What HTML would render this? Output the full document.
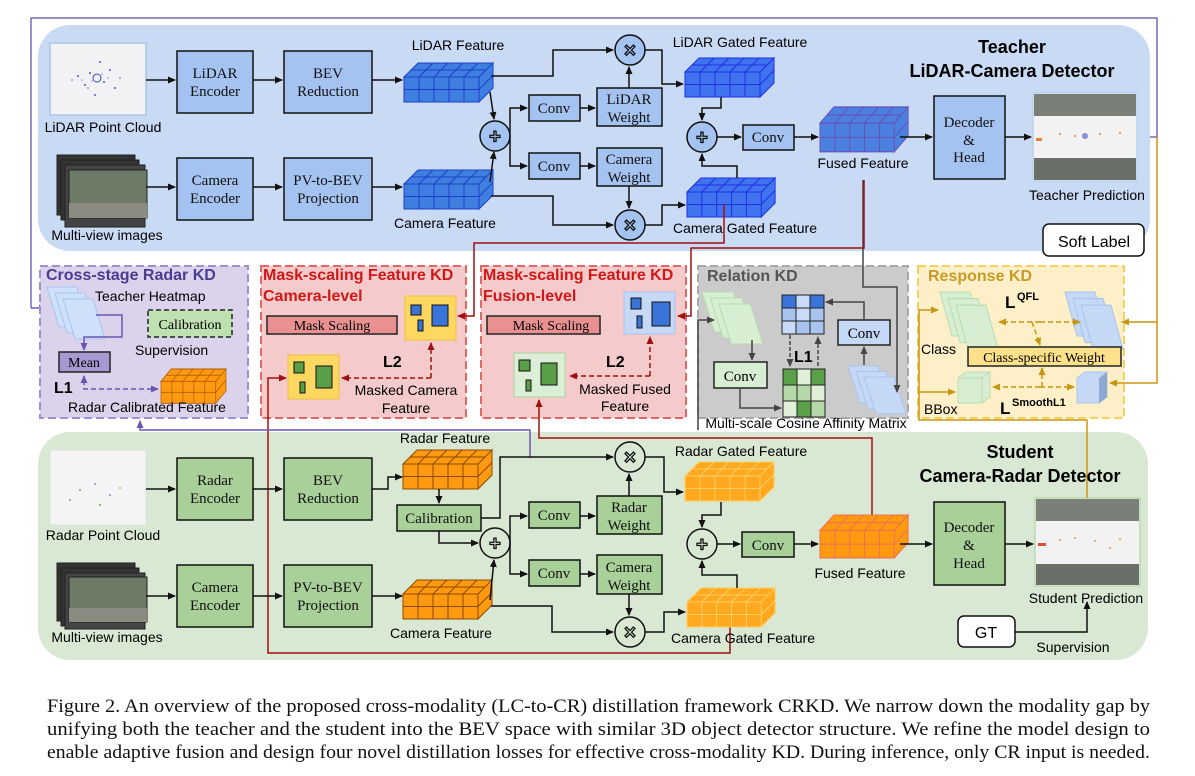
<!DOCTYPE html>
<html><head><meta charset="utf-8"><style>
html,body{margin:0;padding:0;background:#fff;}
svg{display:block;}
.s{font-family:"Liberation Sans",sans-serif;}
.r{font-family:"Liberation Serif",serif;}
</style></head><body>
<svg width="1195" height="776" viewBox="0 0 1195 776" xmlns="http://www.w3.org/2000/svg">
<defs>
<marker id="a" markerWidth="8" markerHeight="8" refX="7" refY="4" orient="auto" markerUnits="userSpaceOnUse"><path d="M0,0.5 L8,4 L0,7.5z" fill="#111"/></marker>
<marker id="ar" markerWidth="8" markerHeight="8" refX="7" refY="4" orient="auto" markerUnits="userSpaceOnUse"><path d="M0,0.5 L8,4 L0,7.5z" fill="#a01010"/></marker>
<marker id="ap" markerWidth="8" markerHeight="8" refX="7" refY="4" orient="auto" markerUnits="userSpaceOnUse"><path d="M0,0.5 L8,4 L0,7.5z" fill="#6a55b0"/></marker>
<marker id="ag" markerWidth="8" markerHeight="8" refX="7" refY="4" orient="auto" markerUnits="userSpaceOnUse"><path d="M0,0.5 L8,4 L0,7.5z" fill="#c8960f"/></marker>
<marker id="ak" markerWidth="8" markerHeight="8" refX="7" refY="4" orient="auto" markerUnits="userSpaceOnUse"><path d="M0,0.5 L8,4 L0,7.5z" fill="#444"/></marker>
<g id="cubeg">
<path d="M0,14 L14,0 L89,0 L75,14z M75,14 L89,0 L89,25 L75,39z M0,14 H75 V39 H0z"/>
<path d="M15,14V39M30,14V39M45,14V39M60,14V39M0,26.5H75M15,14L29,0M30,14L44,0M45,14L59,0M60,14L74,0M7,7H82M75,26.5L89,12.5" fill="none"/>
</g>
<g id="sl"><path d="M0,0h30l12,40h-30z"/><path d="M8,6h30l12,40h-30z"/><path d="M16,12h30l12,40h-30z"/></g>
</defs>

<path d="M31,308 V18 H1157 V137 H1140" fill="none" stroke="#7a68b8" stroke-width="1.5"/>
<path d="M31,308 H46" fill="none" stroke="#6a55b0" stroke-width="1.5" marker-end="url(#ap)"/>

<rect x="38" y="25" width="1112" height="226" rx="32" fill="#c9daf5"/>
<rect x="38" y="432" width="1110" height="228" rx="32" fill="#d8e8d3"/>

<rect x="50" y="43" width="96" height="72" fill="#f2f2f4" stroke="#a8c8e8" stroke-width="1.5"/>
<g fill="#5a5ab8"><circle cx="97" cy="78" r="4" fill="none" stroke="#3a4ab8"/><circle cx="90" cy="73" r="1"/><circle cx="104" cy="82" r="1"/><circle cx="85" cy="85" r="1"/><circle cx="110" cy="70" r="1"/><circle cx="78" cy="76" r="1"/><circle cx="115" cy="88" r="1"/><circle cx="95" cy="95" r="1"/><circle cx="100" cy="62" r="1"/><circle cx="120" cy="78" r="0.8"/><circle cx="72" cy="80" r="0.8"/><circle cx="88" cy="88" r="0.8"/><circle cx="82" cy="80" r="0.6"/><circle cx="108" cy="78" r="0.6"/><circle cx="92" cy="81" r="0.6"/><circle cx="102" cy="74" r="0.6"/></g>
<text x="103" y="132" class="s" font-size="14" text-anchor="middle">LiDAR Point Cloud</text>

<g stroke="#111" fill="#a5c3f0" stroke-width="1.5">
<rect x="177" y="51" width="76" height="62"/><rect x="284" y="51" width="88" height="62"/>
<rect x="177" y="158" width="76" height="62"/><rect x="284" y="158" width="88" height="62"/>
<rect x="529" y="95" width="51" height="26"/><rect x="529" y="153" width="51" height="26"/>
<rect x="597" y="88" width="65" height="38"/><rect x="597" y="148" width="65" height="38"/>
<rect x="743" y="125" width="51" height="25"/>
<rect x="934" y="96" width="71" height="83"/>
</g>
<g class="r" font-size="15" text-anchor="middle" fill="#111">
<text x="215" y="78">LiDAR</text><text x="215" y="96">Encoder</text>
<text x="328" y="78">BEV</text><text x="328" y="96">Reduction</text>
<text x="215" y="185">Camera</text><text x="215" y="203">Encoder</text>
<text x="328" y="185">PV-to-BEV</text><text x="328" y="203">Projection</text>
<text x="554" y="113">Conv</text><text x="554" y="171">Conv</text>
<text x="629" y="104">LiDAR</text><text x="629" y="122">Weight</text>
<text x="629" y="164">Camera</text><text x="629" y="182">Weight</text>
<text x="768" y="142">Conv</text>
<text x="969" y="127">Decoder</text><text x="969" y="145">&amp;</text><text x="969" y="162">Head</text>
</g>

<g stroke="#222"><rect x="57" y="155" width="78" height="60" fill="#333"/><rect x="61" y="160" width="78" height="60" fill="#333"/><rect x="65" y="165" width="80" height="62" fill="#444"/><rect x="69" y="170" width="78" height="48" fill="#6c7a66"/></g>
<rect x="69" y="203" width="78" height="15" fill="#8a8a80"/>
<text x="107" y="240" class="s" font-size="14" text-anchor="middle">Multi-view images</text>

<g fill="#3f7fe0" stroke="#1d3fc8" stroke-width="1"><use href="#cubeg" transform="translate(404,63)"/><use href="#cubeg" transform="translate(404,170)"/></g>
<g fill="#3f73f0" stroke="#2030e0" stroke-width="1"><use href="#cubeg" transform="translate(685,58)"/><use href="#cubeg" transform="translate(687,178) scale(0.99,1)"/></g>
<g fill="#4a80e0" stroke="#6a50b8" stroke-width="1"><use href="#cubeg" transform="translate(820,107) scale(0.99,1.15)"/></g>
<g class="s" font-size="14" text-anchor="middle"><text x="458" y="50">LiDAR Feature</text><text x="445" y="228">Camera Feature</text><text x="740" y="47">LiDAR Gated Feature</text><text x="745" y="233">Camera Gated Feature</text><text x="863" y="168">Fused Feature</text><text x="1087" y="200">Teacher Prediction</text></g>
<g class="s" font-size="18" font-weight="bold" text-anchor="middle"><text x="1012" y="53">Teacher</text><text x="1012" y="77">LiDAR-Camera Detector</text></g>

<rect x="1033" y="93" width="104" height="88" fill="#f2f2f2" stroke="#a8c8e8"/>
<rect x="1034" y="94" width="102" height="22" fill="#7a8078"/><rect x="1034" y="158" width="102" height="22" fill="#6a7068"/>
<g fill="#e08040"><rect x="1036" y="138" width="6" height="3"/><circle cx="1060" cy="134" r="1"/><circle cx="1075" cy="136" r="1"/><circle cx="1100" cy="134" r="1"/><circle cx="1120" cy="133" r="1"/></g>
<circle cx="1085" cy="136" r="3" fill="#8090e0"/>

<g fill="#a5c3f0" stroke="#111" stroke-width="1.5"><circle cx="495" cy="136" r="15"/><circle cx="702" cy="137" r="15"/><circle cx="630" cy="50" r="15"/><circle cx="630" cy="225" r="15"/></g>
<g fill="#d8e8d3" stroke="#111" stroke-width="1.5"><circle cx="495" cy="543" r="15"/><circle cx="702" cy="544" r="15"/><circle cx="630" cy="457" r="15"/><circle cx="630" cy="632" r="15"/></g>
<g class="s" font-size="20" font-weight="bold" text-anchor="middle" fill="none" stroke="#111" stroke-width="1.3"><text x="495" y="143">+</text><text x="702" y="144">+</text><text x="495" y="550">+</text><text x="702" y="551">+</text><text x="630" y="57">×</text><text x="630" y="232">×</text><text x="630" y="464">×</text><text x="630" y="639">×</text></g>

<g stroke="#111" stroke-width="1.5" fill="none" marker-end="url(#a)">
<path d="M146,80H175"/><path d="M253,80H282"/><path d="M372,80H402"/>
<path d="M146,187H175"/><path d="M253,187H282"/><path d="M372,187H402"/>
<path d="M490,92L494,119"/><path d="M490,182L494,152"/>
<path d="M510,136V108H527"/><path d="M510,136V166H527"/>
<path d="M580,108H595"/><path d="M580,166H595"/>
<path d="M629,88V67"/><path d="M629,186V208"/>
<path d="M491,76H553V50H613"/><path d="M491,196H553V225H613"/>
<path d="M645,50H662V84H683"/><path d="M645,225H662V205H685"/>
<path d="M721,97V108H702V120"/><path d="M737,178V166H702V154"/>
<path d="M717,137H741"/><path d="M794,137H818"/><path d="M900,137H932"/><path d="M1005,137H1031"/>
</g>
<rect x="1043" y="224" width="101" height="32" rx="6" fill="#fff" stroke="#111" stroke-width="1.5"/>
<text x="1094" y="247" class="s" font-size="16" text-anchor="middle">Soft Label</text>

<rect x="40" y="266" width="208" height="152" fill="#dbd3ec" stroke="#a090d0" stroke-width="2" stroke-dasharray="8,4"/>
<rect x="261" y="266" width="205" height="152" fill="#f4caca" stroke="#e06868" stroke-width="2" stroke-dasharray="8,4"/>
<rect x="481" y="266" width="205" height="152" fill="#f4caca" stroke="#e06868" stroke-width="2" stroke-dasharray="8,4"/>
<rect x="698" y="266" width="210" height="152" fill="#cbcbcb" stroke="#a8a8a8" stroke-width="2" stroke-dasharray="8,4"/>
<rect x="918" y="266" width="206" height="152" fill="#fdf0c9" stroke="#f5d060" stroke-width="2" stroke-dasharray="8,4"/>

<g class="s" font-size="16" font-weight="bold">
<text x="46" y="280" fill="#4b3c92">Cross-stage Radar KD</text>
<text x="263" y="280" fill="#d01818">Mask-scaling Feature KD</text><text x="263" y="301" fill="#d01818">Camera-level</text>
<text x="483" y="280" fill="#d01818">Mask-scaling Feature KD</text><text x="483" y="301" fill="#d01818">Fusion-level</text>
<text x="707" y="281" fill="#555">Relation KD</text>
<text x="928" y="281" fill="#c89a28">Response KD</text>
</g>

<g fill="#cfe0fa" stroke="#a8c4ee"><use href="#sl" transform="translate(47,287)"/></g>
<text x="95" y="301" class="s" font-size="14">Teacher Heatmap</text>
<rect x="148" y="310" width="84" height="27" fill="#bfe0b0" stroke="#222" stroke-width="1.5" stroke-dasharray="5,3"/>
<text x="190" y="329" class="r" font-size="14" text-anchor="middle">Calibration</text>
<text x="135" y="355" class="s" font-size="14">Supervision</text>
<rect x="59" y="352" width="51" height="20" fill="#a898d2" stroke="#222" stroke-width="1.5"/>
<text x="84" y="367" class="r" font-size="14" text-anchor="middle">Mean</text>
<path d="M96,315H122V337H84V350" fill="none" stroke="#6a55b0" stroke-width="1.5" marker-end="url(#ap)"/>
<text x="54" y="393" class="s" font-size="16" font-weight="bold">L1</text>
<g fill="#ff9a10" stroke="#b05a00"><use href="#cubeg" transform="translate(161,369) scale(0.73,0.88)"/></g>
<path d="M84,385V376" stroke="#6a55b0" stroke-width="1.5" marker-end="url(#ap)"/>
<path d="M84,388V389H158" fill="none" stroke="#6a55b0" stroke-width="1.5" stroke-dasharray="5,3" marker-end="url(#ap)"/>
<text x="68" y="412" class="s" font-size="14">Radar Calibrated Feature</text>

<rect x="267" y="316" width="130" height="18" fill="#e99090" stroke="#222" stroke-width="1.5"/>
<text x="332" y="330" class="r" font-size="14" text-anchor="middle">Mask Scaling</text>
<rect x="405" y="296" width="51" height="44" fill="#fdd860" stroke="#f0c040"/>
<g fill="#3a74d8" stroke="#111"><rect x="411" y="305" width="10" height="10"/><rect x="432" y="305" width="16" height="21"/><rect x="418" y="320" width="5" height="11"/></g>
<rect x="288" y="355" width="51" height="44" fill="#fdd860" stroke="#f0c040"/>
<g fill="#5a9e48" stroke="#111"><rect x="294" y="362" width="10" height="11"/><rect x="316" y="366" width="16" height="22"/><rect x="300" y="382" width="5" height="11"/></g>
<text x="383" y="367" class="s" font-size="16" font-weight="bold">L2</text>
<path d="M431,378H342" fill="none" stroke="#a01010" stroke-width="1.5" stroke-dasharray="5,3" marker-end="url(#ar)"/>
<path d="M431,378V343" fill="none" stroke="#a01010" stroke-width="1.5" stroke-dasharray="5,3" marker-end="url(#ar)"/>
<text x="406" y="395" class="s" font-size="14" text-anchor="middle">Masked Camera</text><text x="406" y="413" class="s" font-size="14" text-anchor="middle">Feature</text>

<rect x="487" y="316" width="113" height="18" fill="#e99090" stroke="#222" stroke-width="1.5"/>
<text x="551" y="330" class="r" font-size="14" text-anchor="middle">Mask Scaling</text>
<rect x="624" y="292" width="51" height="42" fill="#c5d8f5" stroke="#a8c4ee"/>
<g fill="#3a74d8" stroke="#111"><rect x="631" y="298" width="10" height="11"/><rect x="652" y="302" width="18" height="24"/><rect x="637" y="316" width="5" height="12"/></g>
<rect x="514" y="353" width="51" height="44" fill="#dbeed6" stroke="#a8d4a0"/>
<g fill="#5a9e48" stroke="#111"><rect x="519" y="360" width="11" height="11"/><rect x="541" y="363" width="16" height="22"/><rect x="526" y="380" width="5" height="11"/></g>
<text x="606" y="367" class="s" font-size="16" font-weight="bold">L2</text>
<path d="M650,376H570" fill="none" stroke="#a01010" stroke-width="1.5" stroke-dasharray="5,3" marker-end="url(#ar)"/>
<path d="M650,376V337" fill="none" stroke="#a01010" stroke-width="1.5" stroke-dasharray="5,3" marker-end="url(#ar)"/>
<text x="625" y="394" class="s" font-size="14" text-anchor="middle">Masked Fused</text><text x="625" y="411" class="s" font-size="14" text-anchor="middle">Feature</text>

<g fill="#d8eed2" stroke="#b8dcb0"><use href="#sl" transform="translate(702,292) scale(1.05,1)"/></g>
<g fill="#c5d8f5" stroke="#a8c4ee"><use href="#sl" transform="translate(848,366) scale(1.0,0.92)"/></g>
<g stroke="#222" stroke-width="1">
<rect x="782" y="295" width="42" height="39" fill="#a8c4ee"/>
<rect x="782" y="295" width="14" height="13" fill="#3a74d8"/><rect x="810" y="295" width="14" height="13" fill="#3a74d8"/><rect x="796" y="295" width="14" height="13" fill="#c8dbf8"/><rect x="796" y="308" width="14" height="13" fill="#c8dbf8"/><rect x="782" y="321" width="14" height="13" fill="#c8dbf8"/>
<path d="M796,295V334M810,295V334M782,308H824M782,321H824" fill="none"/>
<rect x="783" y="369" width="42" height="48" fill="#b5d8a8"/>
<rect x="783" y="369" width="14" height="16" fill="#5aa048"/><rect x="811" y="369" width="14" height="16" fill="#5aa048"/><rect x="797" y="401" width="14" height="16" fill="#5aa048"/><rect x="797" y="369" width="14" height="16" fill="#e0f0d8"/><rect x="783" y="401" width="14" height="16" fill="#e0f0d8"/><rect x="811" y="385" width="14" height="16" fill="#e0f0d8"/>
<path d="M797,369V417M811,369V417M783,385H825M783,401H825" fill="none"/>
</g>
<rect x="714" y="362" width="53" height="26" fill="#d8eed2" stroke="#222" stroke-width="1.5"/>
<text x="740" y="381" class="r" font-size="15" text-anchor="middle">Conv</text>
<rect x="838" y="320" width="52" height="25" fill="#c5d8f5" stroke="#222" stroke-width="1.5"/>
<text x="864" y="338" class="r" font-size="15" text-anchor="middle">Conv</text>
<text x="794" y="362" class="s" font-size="16" font-weight="bold">L1</text>
<g stroke="#444" stroke-width="1.5" fill="none" marker-end="url(#ak)">
<path d="M752,340V360"/><path d="M740,388V408H781"/><path d="M864,365V347"/><path d="M864,320V302H826"/>
<path d="M790,335V366" stroke-dasharray="4,2"/><path d="M818,366V337" stroke-dasharray="4,2"/>
<path d="M863,180V287H897V392"/><path d="M698,430V320H714"/>
</g>
<text x="806" y="428" class="s" font-size="14" text-anchor="middle">Multi-scale Cosine Affinity Matrix</text>

<g fill="#d8eed2" stroke="#b8dcb0"><use href="#sl" transform="translate(940,292) scale(1,1.1)"/></g>
<g fill="#c5d8f5" stroke="#a8c4ee"><use href="#sl" transform="translate(1065,292) scale(1,1.1)"/></g>
<text x="1005" y="308" class="s" font-size="17" font-weight="bold">L</text><text x="1017" y="300" class="s" font-size="11" font-weight="bold">QFL</text>
<text x="921" y="354" class="s" font-size="14">Class</text>
<rect x="968" y="347" width="153" height="19" fill="#fde08a" stroke="#222" stroke-width="1.5"/>
<text x="1044" y="362" class="r" font-size="14" text-anchor="middle">Class-specific Weight</text>
<path d="M958,378L966,372H990V397L982,403H958z" fill="#d8eed2" stroke="#b8dcb0"/><path d="M958,378H982V403M982,378L990,372" fill="none" stroke="#b8dcb0"/>
<path d="M1077,378L1085,372H1107V397L1099,403H1077z" fill="#c5d8f5" stroke="#a8c4ee"/><path d="M1099,378V403L1107,397V372z" fill="#8fa8d0"/>
<text x="924" y="414" class="s" font-size="14">BBox</text>
<text x="1000" y="414" class="s" font-size="17" font-weight="bold">L</text><text x="1012" y="406" class="s" font-size="11" font-weight="bold">SmoothL1</text>
<g stroke="#c8960f" stroke-width="1.5" fill="none" stroke-dasharray="5,3">
<path d="M1040,322H999" marker-end="url(#ag)"/><path d="M1040,322H1080" marker-end="url(#ag)"/>
<path d="M1040,387H993" marker-end="url(#ag)"/><path d="M1040,387H1074" marker-end="url(#ag)"/>
<path d="M1032,322L1040,345" marker-end="url(#ag)"/><path d="M1042,387V368" marker-end="url(#ag)"/>
</g>
<g stroke="#c8960f" stroke-width="1.5" fill="none" marker-end="url(#ag)">
<path d="M1157,137V322H1122"/><path d="M1157,322V383H1110"/>
<path d="M1087,498V420H919V310H938"/><path d="M919,392H955"/>
</g>

<g stroke="#a01010" stroke-width="1.5" fill="none" marker-end="url(#ar)">
<path d="M724,205V243H474V316H458"/>
<path d="M864,180V248H691V316H678"/>
<path d="M730,615V653H268V378H286"/>
<path d="M872,520V438H539V400"/>
</g>
<path d="M530,458V430H140V421" fill="none" stroke="#6a55b0" stroke-width="1.5" marker-end="url(#ap)"/>

<rect x="50" y="450" width="96" height="75" fill="#f4f4f4" stroke="#e0e0e0"/>
<g fill="#8a8ab0"><circle cx="80" cy="490" r="1"/><circle cx="95" cy="484" r="1"/><circle cx="110" cy="495" r="1"/><circle cx="70" cy="500" r="1"/><circle cx="120" cy="488" r="1" fill="#e0a060"/><circle cx="100" cy="505" r="1" fill="#60b060"/></g>
<text x="103" y="540" class="s" font-size="14" text-anchor="middle">Radar Point Cloud</text>
<g stroke="#222"><rect x="57" y="563" width="78" height="58" fill="#333"/><rect x="61" y="568" width="78" height="58" fill="#333"/><rect x="65" y="573" width="80" height="56" fill="#444"/><rect x="69" y="577" width="78" height="45" fill="#6c7a66"/></g>
<rect x="69" y="608" width="78" height="14" fill="#8a8a80"/>
<text x="107" y="642" class="s" font-size="14" text-anchor="middle">Multi-view images</text>

<g stroke="#111" fill="#a8d098" stroke-width="1.5">
<rect x="177" y="458" width="76" height="62"/><rect x="284" y="458" width="88" height="62"/>
<rect x="177" y="565" width="76" height="62"/><rect x="284" y="565" width="88" height="62"/>
<rect x="397" y="505" width="84" height="26"/>
<rect x="529" y="502" width="51" height="26"/><rect x="529" y="560" width="51" height="26"/>
<rect x="597" y="496" width="65" height="38"/><rect x="597" y="555" width="65" height="39"/>
<rect x="742" y="532" width="52" height="25"/>
<rect x="934" y="502" width="71" height="83"/>
</g>
<g class="r" font-size="15" text-anchor="middle" fill="#111">
<text x="215" y="485">Radar</text><text x="215" y="503">Encoder</text>
<text x="328" y="485">BEV</text><text x="328" y="503">Reduction</text>
<text x="215" y="592">Camera</text><text x="215" y="610">Encoder</text>
<text x="328" y="592">PV-to-BEV</text><text x="328" y="610">Projection</text>
<text x="439" y="523">Calibration</text>
<text x="554" y="520">Conv</text><text x="554" y="578">Conv</text>
<text x="629" y="512">Radar</text><text x="629" y="530">Weight</text>
<text x="629" y="572">Camera</text><text x="629" y="590">Weight</text>
<text x="768" y="550">Conv</text>
<text x="969" y="532">Decoder</text><text x="969" y="550">&amp;</text><text x="969" y="568">Head</text>
</g>
<g fill="#ff9a10" stroke="#8a4a00" stroke-width="1"><use href="#cubeg" transform="translate(403,450)"/><use href="#cubeg" transform="translate(403,580)"/></g>
<g fill="#ffa820" stroke="#ffd060" stroke-width="1"><use href="#cubeg" transform="translate(685,462)"/><use href="#cubeg" transform="translate(687,588) scale(0.99,1)"/></g>
<g fill="#ff9a10" stroke="#f07050" stroke-width="1"><use href="#cubeg" transform="translate(820,515) scale(0.99,1.1)"/></g>
<g class="s" font-size="14" text-anchor="middle"><text x="445" y="443">Radar Feature</text><text x="441" y="638">Camera Feature</text><text x="741" y="456">Radar Gated Feature</text><text x="743" y="643">Camera Gated Feature</text><text x="860" y="578">Fused Feature</text><text x="1086" y="603">Student Prediction</text><text x="1073" y="652">Supervision</text></g>
<g class="s" font-size="18" font-weight="bold" text-anchor="middle"><text x="1020" y="458">Student</text><text x="1020" y="482">Camera-Radar Detector</text></g>
<rect x="1035" y="498" width="105" height="88" fill="#f2f2f2" stroke="#a8d098"/>
<rect x="1036" y="499" width="103" height="22" fill="#7a8078"/><rect x="1036" y="564" width="103" height="21" fill="#6a7068"/>
<g fill="#e0a050"><rect x="1038" y="543" width="8" height="3" fill="#e05030"/><circle cx="1060" cy="540" r="1"/><circle cx="1075" cy="538" r="1"/><circle cx="1095" cy="541" r="1"/><circle cx="1120" cy="539" r="1"/><circle cx="1110" cy="548" r="1"/></g>

<g stroke="#111" stroke-width="1.5" fill="none" marker-end="url(#a)">
<path d="M146,489H175"/><path d="M253,489H282"/><path d="M372,489H388V477H402"/>
<path d="M146,596H175"/><path d="M253,596H282"/><path d="M372,596H402"/>
<path d="M439,489V503"/><path d="M439,531V543H478"/><path d="M490,600L494,560"/>
<path d="M481,518H500V457H613"/>
<path d="M510,543V516H527"/><path d="M510,543V574H527"/>
<path d="M580,516H595"/><path d="M580,574H595"/>
<path d="M629,496V474"/><path d="M629,594V615"/>
<path d="M491,606H552V632H613"/>
<path d="M645,457H664V492H683"/><path d="M645,632H664V612H685"/>
<path d="M721,502V515H702V527"/><path d="M737,588V575H702V561"/>
<path d="M717,544H740"/><path d="M794,544H818"/><path d="M900,544H932"/><path d="M1005,544H1033"/>
<path d="M1015,632H1087V602"/>
</g>
<rect x="958" y="616" width="57" height="31" rx="6" fill="#fff" stroke="#111" stroke-width="1.5"/>
<text x="986" y="638" class="s" font-size="16" text-anchor="middle">GT</text>

<g class="r" font-size="19" fill="#111">
<text x="47" y="712" textLength="1103" lengthAdjust="spacingAndGlyphs">Figure 2. An overview of the proposed cross-modality (LC-to-CR) distillation framework CRKD. We narrow down the modality gap by</text>
<text x="47" y="735" textLength="1103" lengthAdjust="spacingAndGlyphs">unifying both the teacher and the student into the BEV space with similar 3D object detector structure. We refine the model design to</text>
<text x="47" y="758" textLength="1103" lengthAdjust="spacingAndGlyphs">enable adaptive fusion and design four novel distillation losses for effective cross-modality KD. During inference, only CR input is needed.</text>
</g>
</svg>
</body></html>
